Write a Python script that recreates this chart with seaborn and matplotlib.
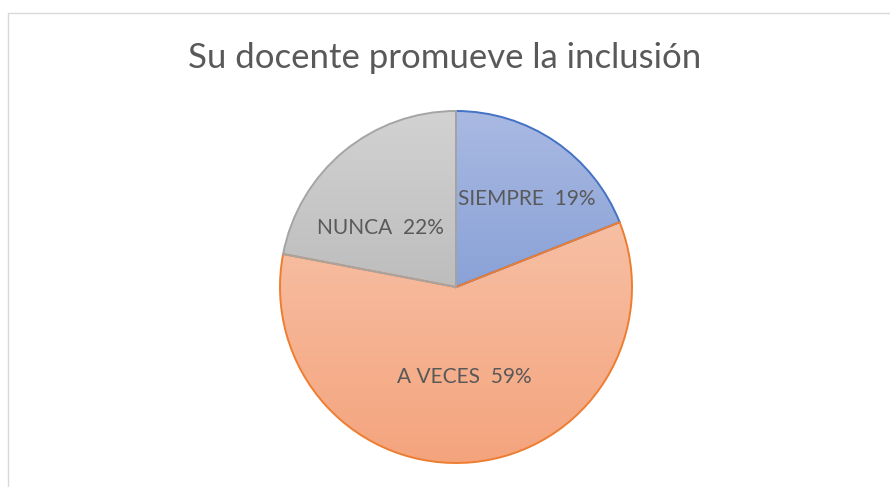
import numpy as np
import matplotlib
matplotlib.use("Agg")
import matplotlib.pyplot as plt
import seaborn as sns
from matplotlib.colors import LinearSegmentedColormap
from matplotlib.patches import Rectangle

categories = ["SIEMPRE", "A VECES", "NUNCA"]
values = [19, 59, 22]
title = "Su docente promueve la inclusión"

edge_colors = ["#4472C4", "#ED7D31", "#A5A5A5"]
grad_top = ["#A9B9E2", "#F7BFA4", "#D2D2D2"]
grad_bot = ["#8AA2D7", "#F4A47D", "#BDBDBD"]
label_pos = [(0.40, 0.50), (0.05, -0.51), (-0.43, 0.335)]

sns.set_theme(style="white")
plt.rcParams["font.family"] = ["Lato", "DejaVu Sans"]

W, H = 890, 487
fig = plt.figure(figsize=(W / 100, H / 100), dpi=100)
fig.patch.set_facecolor("white")

# chart border (only top and left visible)
fig.patches.append(Rectangle((8 / W, -0.1), 1.2, (H - 13) / H + 0.1,
                             transform=fig.transFigure, fill=False,
                             edgecolor="#D9D9D9", linewidth=1.0))

cx, cy, r = 456, 287, 176
ax = fig.add_axes([(cx - r) / W, (H - cy - r) / H, 2 * r / W, 2 * r / H])
wedges, _ = ax.pie(values, startangle=90, counterclock=False, radius=1,
                   wedgeprops=dict(linewidth=1.4))

for i, w in enumerate(wedges):
    w.set_facecolor("none")
    w.set_edgecolor(edge_colors[i])
    w.set_zorder(3)
    bb = w.get_path().get_extents(w.get_patch_transform())
    cmap = LinearSegmentedColormap.from_list("g", [grad_bot[i], grad_top[i]])
    grad = np.linspace(0, 1, 256).reshape(-1, 1)
    im = ax.imshow(grad, cmap=cmap, origin="lower", aspect="auto",
                   extent=(bb.x0, bb.x1, bb.y0, bb.y1), zorder=2)
    im.set_clip_path(w)

ax.set_xlim(-1.0, 1.0)
ax.set_ylim(-1.0, 1.0)
ax.axis("off")

for i, (cat, v) in enumerate(zip(categories, values)):
    x, y = label_pos[i]
    ax.text(x, y, f"{cat}  {v}%", ha="center", va="center", fontsize=15,
            color="#595959", zorder=5)

fig.text(0.5, 1 - 58 / H, title, ha="center", va="center", fontsize=25,
         color="#595959")

fig.savefig("out.png", dpi=100)
